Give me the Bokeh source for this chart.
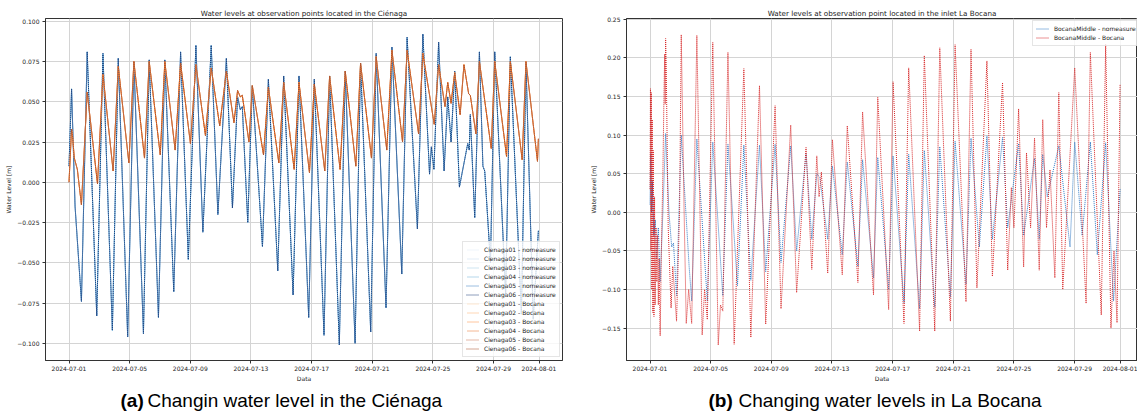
import numpy as np
import pandas as pd
from bokeh.plotting import figure
from bokeh.models import (Range1d, FixedTicker, DatetimeTickFormatter, CustomJSTickFormatter,
                          Legend, LegendItem)
from bokeh.core.properties import value
from bokeh.layouts import row, column
from bokeh.embed import file_html
from bokeh.resources import INLINE

START = "2024-07-01"
TICK_DATES = ["2024-07-01", "2024-07-05", "2024-07-09", "2024-07-13", "2024-07-17",
              "2024-07-21", "2024-07-25", "2024-07-29", "2024-08-01"]
LEFT_Y_TICKS = [-0.100, -0.075, -0.050, -0.025, 0.000, 0.025, 0.050, 0.075, 0.100]
RIGHT_Y_TICKS = [-0.15, -0.10, -0.05, 0.00, 0.05, 0.10, 0.15, 0.20, 0.25]

CIENAGA_NAMES = ["Cienaga01", "Cienaga02", "Cienaga03", "Cienaga04", "Cienaga05", "Cienaga06"]

# Cienaga stations, scenario "nomeasure" (days since 2024-07-01, water level m)
cienaga_nomeasure_day = [0.00, 0.17, 0.40, 0.82, 1.20, 1.83, 2.24, 2.86, 3.25, 3.87, 4.28, 4.91,
                         5.29, 5.90, 6.32, 6.91, 7.36, 7.87, 8.37, 8.83, 9.38, 9.82, 10.38, 10.78,
                         11.12, 11.30, 11.43, 11.79, 12.09, 12.76, 13.15, 13.77, 14.16, 14.78,
                         15.17, 15.81, 16.18, 16.82, 17.19, 17.83, 18.22, 18.87, 19.23, 19.90,
                         20.26, 20.91, 21.30, 21.95, 22.30, 22.98, 23.34, 23.78, 23.90, 24.07,
                         24.38, 24.74, 24.98, 25.20, 25.44, 25.75, 26.30, 26.40, 26.47, 26.76,
                         27.07, 27.30, 27.42, 27.80, 28.08, 28.80, 29.11, 29.84, 30.14, 30.62, 30.96]
cienaga_nomeasure_val = [0.010, 0.058, -0.015, -0.074, 0.081, -0.083, 0.080, -0.092, 0.077, -0.096,
                         0.075, -0.094, 0.076, -0.084, 0.076, -0.068, 0.081, -0.048, 0.085, -0.031,
                         0.085, -0.020, 0.077, -0.016, 0.053, 0.045, 0.047, -0.025, 0.060, -0.040,
                         0.064, -0.055, 0.066, -0.070, 0.066, -0.084, 0.064, -0.095, 0.066, -0.101,
                         0.069, -0.100, 0.074, -0.093, 0.080, -0.078, 0.084, -0.057, 0.090, -0.029,
                         0.092, 0.005, 0.022, 0.008, 0.087, 0.007, 0.053, 0.025, 0.069, -0.003,
                         0.024, 0.020, 0.042, -0.022, 0.081, 0.010, 0.007, -0.050, 0.081, -0.070,
                         0.078, -0.082, 0.074, -0.085, -0.030]

# Cienaga stations, scenario "Bocana"
cienaga_bocana_day = [0.00, 0.17, 0.24, 0.35, 0.55, 0.82, 1.20, 1.88, 2.24, 2.91, 3.25, 3.95,
                      4.28, 4.98, 5.29, 6.02, 6.32, 7.00, 7.36, 8.01, 8.37, 9.00, 9.38, 9.94,
                      10.38, 10.88, 11.12, 11.30, 11.43, 11.87, 12.09, 12.83, 13.15, 13.84,
                      14.16, 14.85, 15.17, 15.86, 16.18, 16.87, 17.19, 17.88, 18.22, 18.92,
                      19.23, 19.95, 20.26, 20.96, 21.30, 22.00, 22.30, 23.06, 23.34, 24.09,
                      24.38, 24.80, 24.98, 25.20, 25.44, 25.80, 26.05, 26.36, 26.47, 26.84,
                      27.07, 27.85, 28.08, 28.86, 29.11, 29.89, 30.14, 30.90, 30.96]
cienaga_bocana_val = [0.000, 0.033, 0.028, 0.015, 0.008, -0.014, 0.056, -0.001, 0.067, 0.007,
                      0.072, 0.012, 0.075, 0.015, 0.075, 0.017, 0.075, 0.020, 0.074, 0.024,
                      0.073, 0.029, 0.071, 0.035, 0.069, 0.037, 0.057, 0.053, 0.054, 0.025,
                      0.060, 0.017, 0.059, 0.012, 0.062, 0.008, 0.062, 0.006, 0.061, 0.007,
                      0.066, 0.008, 0.069, 0.010, 0.074, 0.015, 0.078, 0.020, 0.082, 0.025,
                      0.082, 0.030, 0.080, 0.036, 0.073, 0.047, 0.062, 0.049, 0.068, 0.042,
                      0.073, 0.055, 0.054, 0.030, 0.075, 0.021, 0.075, 0.016, 0.075, 0.014,
                      0.075, 0.013, 0.027]

# BocanaMiddle, scenario "nomeasure"
bocana_nomeasure_day = [0.00, 0.05, 0.10, 0.15, 0.25, 0.35, 0.43, 0.55, 0.67, 0.85, 1.03, 1.25,
                        1.43, 1.55, 1.75, 2.06, 2.58, 2.75, 3.09, 3.78, 4.14, 4.80, 5.14, 5.77,
                        6.19, 6.65, 7.22, 7.63, 8.25, 8.64, 9.28, 9.67, 10.29, 10.67, 11.00, 11.20,
                        11.72, 12.03, 12.68, 13.01, 13.71, 14.02, 14.74, 15.02, 15.74, 16.03, 16.75,
                        17.06, 17.78, 18.09, 18.78, 19.11, 19.81, 20.12, 20.84, 21.17, 21.72, 22.22,
                        22.58, 23.25, 23.59, 24.31, 24.64, 25.36, 25.67, 25.90, 26.20, 26.96, 27.70,
                        28.01, 28.50, 29.04, 29.50, 30.05, 30.57, 31.00]
bocana_nomeasure_val = [0.010, 0.076, 0.000, 0.040, -0.030, -0.010, -0.060, -0.020, -0.090, 0.000,
                        0.102, 0.000, -0.045, -0.040, -0.108, 0.100, -0.070, -0.115, 0.095, -0.115,
                        0.091, -0.108, 0.088, -0.095, 0.087, -0.088, 0.087, -0.077, 0.088, -0.065,
                        0.086, -0.050, 0.076, -0.035, 0.050, 0.045, -0.035, 0.060, -0.055, 0.065,
                        -0.070, 0.068, -0.085, 0.071, -0.100, 0.073, -0.117, 0.075, -0.125, 0.080,
                        -0.123, 0.085, -0.110, 0.092, -0.093, 0.096, -0.045, 0.099, -0.035, 0.097,
                        -0.020, 0.089, -0.030, 0.070, -0.035, 0.075, 0.020, 0.086, -0.045, 0.091,
                        -0.030, 0.091, -0.055, 0.090, -0.115, 0.030]

# BocanaMiddle, scenario "Bocana"
bocana_bocana_day = [0.00, 0.03, 0.06, 0.09, 0.12, 0.15, 0.19, 0.22, 0.26, 0.30, 0.34, 0.40, 0.45,
                     0.50, 0.55, 0.60, 0.67, 0.75, 0.85, 0.92, 0.97, 1.00, 1.03, 1.07, 1.20, 1.39,
                     1.50, 1.75, 1.95, 2.06, 2.25, 2.39, 2.55, 2.75, 3.09, 3.44, 3.60, 3.78, 4.14,
                     4.50, 4.65, 4.80, 5.14, 5.55, 6.19, 6.65, 7.22, 7.63, 8.25, 8.64, 9.28, 9.67,
                     10.29, 10.67, 11.00, 11.15, 11.30, 11.72, 12.03, 12.68, 13.01, 13.71, 14.02,
                     14.74, 15.02, 15.74, 16.03, 16.75, 17.06, 17.78, 18.09, 18.78, 19.11, 19.81,
                     20.12, 20.84, 21.17, 21.56, 22.22, 22.58, 23.25, 23.59, 23.83, 24.00, 24.31,
                     24.64, 24.83, 25.10, 25.36, 25.67, 25.90, 26.15, 26.38, 26.70, 26.96, 27.22,
                     28.01, 28.76, 29.04, 29.76, 30.05, 30.40, 30.60, 30.80, 31.00]
bocana_bocana_val = [0.030, 0.160, -0.050, 0.155, -0.100, 0.120, -0.130, 0.080, -0.135, 0.020,
                     -0.120, -0.020, -0.090, -0.030, -0.120, -0.060, -0.160, -0.050, 0.050, 0.150,
                     0.205, 0.140, 0.225, 0.190, -0.020, -0.124, -0.070, -0.141, 0.000, 0.230,
                     0.000, -0.144, -0.100, -0.144, 0.229, -0.159, -0.100, -0.139, 0.220, -0.172,
                     -0.120, -0.128, 0.207, -0.171, 0.186, -0.162, 0.164, -0.145, 0.138, -0.125,
                     0.113, -0.104, 0.084, -0.074, 0.073, 0.020, 0.052, -0.079, 0.094, -0.081,
                     0.112, -0.091, 0.130, -0.107, 0.149, -0.126, 0.169, -0.144, 0.187, -0.154,
                     0.203, -0.154, 0.213, -0.141, 0.217, -0.116, 0.211, -0.098, 0.196, -0.083,
                     0.168, -0.075, 0.032, -0.020, 0.134, -0.071, 0.077, -0.020, 0.096, -0.075,
                     0.120, -0.020, 0.055, -0.085, 0.155, -0.100, 0.187, -0.118, 0.207, -0.133,
                     0.218, -0.150, -0.050, -0.143, 0.165]

CAPTION_TAGS = ["(a)", "(b)"]
CAPTION_TEXTS = ["Changin water level in the Ciénaga", "Changing water levels in La Bocana"]

BLUES = ["#deebf7", "#c6dbef", "#9ecae1", "#6baed6", "#3a7cc0", "#1f3f7a"]
ORANGES = ["#fdd0a2", "#fdae6b", "#fd8d3c", "#e8702a", "#c8714f", "#a84f2a"]
DASH_OFFSET = [1, 1, 1, 1, 0, 0]

EPOCH = pd.Timestamp("1970-01-01")
T0 = pd.Timestamp(START)


def ms_days(days):
    d = T0 + pd.to_timedelta(np.asarray(days, dtype=float), unit="D")
    return np.asarray((d - EPOCH) / pd.Timedelta(milliseconds=1), dtype=float)


def ms_date(s):
    return float((pd.Timestamp(s) - EPOCH) / pd.Timedelta(milliseconds=1))


FONT = "DejaVu Sans"
FS = "6px"
FRAME_H = 342


def make_fig(frame_w, mbl, mbr, x_end, y0, y1, yticks, ydigits, title):
    p = figure(frame_width=frame_w, frame_height=FRAME_H, min_border_left=mbl,
               min_border_right=mbr, min_border_top=18, min_border_bottom=23,
               x_axis_type="datetime", title=title,
               x_range=Range1d(float(ms_days([-1.55])[0]), float(ms_days([x_end])[0])),
               y_range=Range1d(y0, y1), toolbar_location=None, output_backend="svg")
    p.title.align = "center"
    p.title.text_font = FONT
    p.title.text_font_size = "7.2px"
    p.title.text_font_style = "normal"
    p.title.text_color = "#222222"
    p.title.standoff = 2
    p.background_fill_color = "white"
    p.border_fill_color = "white"
    p.outline_line_color = "#333333"
    p.outline_line_width = 1
    p.xaxis.ticker = FixedTicker(ticks=[ms_date(d) for d in TICK_DATES])
    fmt = "%Y-%m-%d"
    p.xaxis.formatter = DatetimeTickFormatter(microseconds=fmt, milliseconds=fmt, seconds=fmt,
                                              minsec=fmt, minutes=fmt, hourmin=fmt, hours=fmt,
                                              days=fmt, months=fmt, years=fmt)
    p.yaxis.ticker = FixedTicker(ticks=yticks)
    p.yaxis.formatter = CustomJSTickFormatter(
        code="var s = Math.abs(tick).toFixed(%d); return (tick < -1e-9 ? '\\u2212' : '') + s;" % ydigits)
    for ax in (p.xaxis[0], p.yaxis[0]):
        ax.major_label_text_font = FONT
        ax.major_label_text_font_size = FS
        ax.major_label_text_color = "#222222"
        ax.axis_label_text_font = FONT
        ax.axis_label_text_font_size = FS
        ax.axis_label_text_font_style = "normal"
        ax.axis_label_text_color = "#222222"
        ax.minor_tick_line_color = None
        ax.major_tick_in = 0
        ax.major_tick_out = 3
        ax.axis_line_color = "#333333"
        ax.major_tick_line_color = "#333333"
    p.xaxis.major_label_standoff = 2
    p.xaxis.axis_label = "Data"
    p.xaxis.axis_label_standoff = 1
    p.yaxis.major_label_standoff = 3
    p.yaxis.axis_label = "Water Level [m]"
    p.yaxis.axis_label_standoff = 2
    p.grid.grid_line_color = "#d4d4d4"
    p.grid.grid_line_width = 1
    return p


def make_legend(items, loc):
    return Legend(items=items, location=loc, label_text_font=FONT, label_text_font_size=FS,
                  label_text_color="#222222", glyph_width=13, glyph_height=9, label_height=9,
                  spacing=0, padding=3, margin=0, label_standoff=5,
                  background_fill_color="white", background_fill_alpha=0.8,
                  border_line_color="#cccccc", border_line_width=1)


# ---------- left: Cienaga ----------
p1 = make_fig(517, 45, 18, 32.55, -0.1107, 0.1017, LEFT_Y_TICKS, 3,
              "Water levels at observation points located in the Ciénaga")
items = []
xb = ms_days(cienaga_nomeasure_day)
xo = ms_days(cienaga_bocana_day)
for i, name in enumerate(CIENAGA_NAMES):
    r = p1.line(xb, cienaga_nomeasure_val, line_color=BLUES[i], line_width=1,
                line_dash="1 1", line_dash_offset=DASH_OFFSET[i])
    items.append(LegendItem(label=name + " - nomeasure", renderers=[r]))
for i, name in enumerate(CIENAGA_NAMES):
    r = p1.line(xo, cienaga_bocana_val, line_color=ORANGES[i], line_width=1,
                line_dash="1 1", line_dash_offset=DASH_OFFSET[i])
    items.append(LegendItem(label=name + " - Bocana", renderers=[r]))
p1.add_layout(make_legend(items, (417, 3)))

# ---------- right: La Bocana ----------
p2 = make_fig(511, 46, 0, 32.15, -0.192, 0.251, RIGHT_Y_TICKS, 2,
              "Water levels at observation point located in the inlet La Bocana")
r_nm = p2.line(ms_days(bocana_nomeasure_day), bocana_nomeasure_val, line_color="#2f78c4",
               line_width=1, line_dash="1 1")
r_bc = p2.line(ms_days(bocana_bocana_day), bocana_bocana_val, line_color="#d62728",
               line_width=1, line_dash="1 1")
p2.add_layout(make_legend([LegendItem(label="BocanaMiddle - nomeasure", renderers=[r_nm]),
                           LegendItem(label="BocanaMiddle - Bocana", renderers=[r_bc])],
                          (406, 314)))

# ---------- captions ----------
cap = figure(width=1137, height=36, x_range=Range1d(0, 1137), y_range=Range1d(0, 36),
             min_border=0, x_axis_location=None, y_axis_location=None,
             toolbar_location=None, output_backend="svg")
cap.grid.visible = False
cap.outline_line_color = None
cap.background_fill_color = "white"
cap.border_fill_color = "white"
cap.text(x=[120, 708], y=[20, 20], text=CAPTION_TAGS, text_font=value("Liberation Sans"),
         text_font_style="bold", text_font_size="19px", text_baseline="middle",
         text_align="left", text_color="black")
cap.text(x=[147, 738], y=[20, 20], text=CAPTION_TEXTS, text_font=value("Liberation Sans"),
         text_font_size="19px", text_baseline="middle", text_align="left", text_color="black")

layout = column(row(p1, p2, spacing=0), cap, spacing=0)
with open("out.html", "w", encoding="utf-8") as f:
    f.write(file_html(layout, INLINE))
